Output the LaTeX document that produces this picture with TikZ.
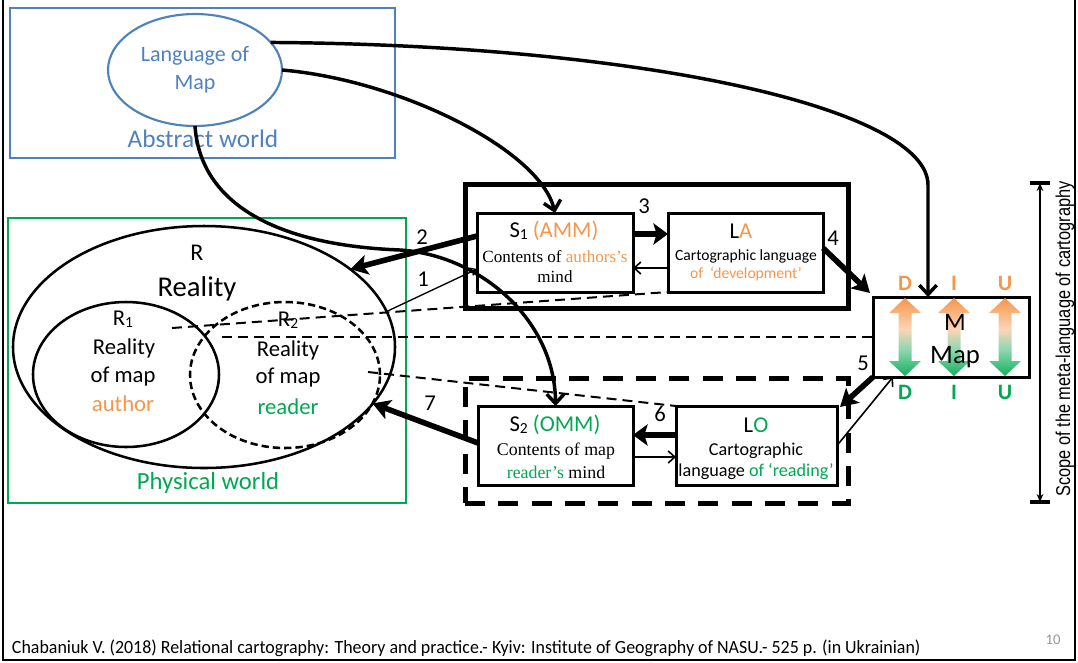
\documentclass[tikz,border=0pt]{standalone}
\usepackage{fontspec}
\usepackage{graphicx}
\setmainfont{Carlito}
\newfontfamily\timesface{Liberation Serif}
\newfontfamily\arialface{Liberation Sans}
\usetikzlibrary{arrows.meta,shapes.geometric}
\definecolor{absblue}{RGB}{79,129,189}
\definecolor{phygreen}{RGB}{0,168,80}
\definecolor{devorange}{RGB}{245,150,75}
\definecolor{pagegray}{RGB}{150,150,150}
\newcommand\lowidx[1]{\raisebox{-0.15ex}{\scalebox{0.68}{#1}}}
\pgfdeclareverticalshading{diushade}{100bp}{color(0bp)=(phygreen); color(22bp)=(phygreen); color(42bp)=(phygreen!45!white); color(55bp)=(devorange!40!white); color(75bp)=(devorange); color(100bp)=(devorange)}
\begin{document}
\begin{tikzpicture}[x=0.75pt,y=-0.75pt,
  every node/.style={inner sep=0pt,outer sep=0pt},
  box/.style={draw,line width=2.25pt,rectangle},
  group/.style={draw,line width=3.75pt,rectangle},
  dashgroup/.style={draw,line width=3.75pt,rectangle,dash pattern=on 15pt off 10pt},
  oval/.style={draw,ellipse,line width=1.9pt},
  guide/.style={line width=1.5pt,dash pattern=on 7.5pt off 4.5pt},
  curve/.style={line width=2.6pt,-{Straight Barb[length=7pt,width=13pt]}},
  heavy/.style={line width=4.2pt,-{Stealth[length=13pt,width=15pt,inset=3pt]}},
  light/.style={line width=1.2pt,-{Straight Barb[length=5pt,width=9pt]}},
  num/.style={font=\fontsize{17}{20}\selectfont},
  diu/.pic={\shade[shading=diushade] (0,-39) -- (16,-24) -- (6.5,-24) -- (6.5,24) -- (16,24) -- (0,39) -- (-16,24) -- (-6.5,24) -- (-6.5,-24) -- (-16,-24) -- cycle;},
]
\useasboundingbox (0,0) rectangle (1078,662);

% slide frame
\draw[line width=1.3pt] (3,0) -- (3,660) -- (1075,660) -- (1075,0);

% abstract world
\node[draw=absblue,line width=1.6pt,minimum width=385*0.75pt,minimum height=150*0.75pt] (abstract) at (202.5,83) {};
\node[oval,draw=absblue,line width=1.6pt,minimum width=174*0.75pt,minimum height=112*0.75pt] (LoM) at (195,70) {};
\node[text=absblue,align=center,font=\fontsize{16.5}{21}\selectfont] (LoMtext) at (195,70) {Language of\\Map};
\node[text=absblue,font=\fontsize{19}{22}\selectfont] (abstractlbl) at (203,139) {Abstract world};

% physical world
\node[draw=phygreen,line width=1.6pt,minimum width=398*0.75pt,minimum height=285*0.75pt] (physical) at (207,360.5) {};
\node[text=phygreen,font=\fontsize{18.5}{22}\selectfont] (physlbl) at (208,483) {Physical world};

\node[oval,minimum width=382*0.75pt,minimum height=242*0.75pt] (R) at (204,347) {};
\node[oval,minimum width=186*0.75pt,minimum height=145*0.75pt] (R1) at (126,374.5) {};
\node[oval,dash pattern=on 5.5pt off 3pt,minimum width=190*0.75pt,minimum height=146*0.75pt] (R2) at (285,375) {};

\node[font=\fontsize{18}{22}\selectfont] (Rlbl) at (197,253) {R};
\node[font=\fontsize{21.5}{24}\selectfont] (Rtext) at (197,289) {Reality};
\node[font=\fontsize{17}{20}\selectfont] (R1lbl) at (123,319) {R\lowidx{1}};
\node[font=\fontsize{17}{20}\selectfont] (R1a) at (124,348) {Reality};
\node[font=\fontsize{17}{20}\selectfont] (R1b) at (123,377) {of map};
\node[font=\fontsize{17}{20}\selectfont,text=devorange] (R1c) at (123,404) {author};
\node[font=\fontsize{17}{20}\selectfont] (R2lbl) at (288,320) {R\lowidx{2}};
\node[font=\fontsize{17}{20}\selectfont] (R2a) at (288,350) {Reality};
\node[font=\fontsize{17}{20}\selectfont] (R2b) at (288,378) {of map};
\node[font=\fontsize{17}{20}\selectfont,text=phygreen] (R2c) at (288,407) {reader};

% development block
\node[group,minimum width=383*0.75pt,minimum height=124*0.75pt] (devframe) at (656.5,246) {};
\node[box,minimum width=156*0.75pt,minimum height=79*0.75pt] (S1) at (555,252.5) {};
\node[box,minimum width=155*0.75pt,minimum height=79*0.75pt] (LA) at (745.5,252.5) {};
\node[font=\fontsize{17}{20}\selectfont] (S1a) at (554,231) {S\lowidx{1} \textcolor{devorange}{(AMM)}};
\node[font=\timesface\fontsize{12.8}{15}\selectfont] (S1b) at (555,257) {Contents of \textcolor{devorange}{authors’s}};
\node[font=\timesface\fontsize{12.8}{15}\selectfont] (S1c) at (555,277) {mind};
\node[font=\fontsize{17}{20}\selectfont] (LAa) at (741,231) {L\textcolor{devorange}{A}};
\node[font=\fontsize{11.7}{14}\selectfont] (LAb) at (746,256) {Cartographic language};
\node[font=\fontsize{11.7}{14}\selectfont,text=devorange] (LAc) at (746,274) {of\ \ ‘development’};

% reading block
\node[dashgroup,minimum width=383*0.75pt,minimum height=125*0.75pt] (readframe) at (656.5,440.5) {};
\node[box,minimum width=155*0.75pt,minimum height=79*0.75pt] (S2) at (555.5,445.5) {};
\node[box,minimum width=161*0.75pt,minimum height=79*0.75pt] (LO) at (756.5,445.5) {};
\node[font=\fontsize{17}{20}\selectfont] (S2a) at (555,425) {S\lowidx{2} \textcolor{phygreen}{(OMM)}};
\node[font=\timesface\fontsize{13.4}{16}\selectfont] (S2b) at (556,451) {Contents of map};
\node[font=\timesface\fontsize{13.4}{16}\selectfont] (S2c) at (556,472) {\textcolor{phygreen}{reader’s} mind};
\node[font=\fontsize{17}{20}\selectfont] (LOa) at (756,425) {L\textcolor{phygreen}{O}};
\node[font=\fontsize{13.6}{16}\selectfont] (LOb) at (756,451) {Cartographic};
\node[font=\fontsize{13.6}{16}\selectfont] (LOc) at (756,472) {language \textcolor{phygreen}{of ‘reading’}};

% map
\node[box,minimum width=156*0.75pt,minimum height=80*0.75pt] (M) at (951,337) {};
\pic at (905,337) {diu};
\pic at (954,337) {diu};
\pic at (1005,337) {diu};
\node[font=\fontsize{19}{22}\selectfont] (Mlbl) at (955,322) {M};
\node[font=\fontsize{20}{24}\selectfont] (Mtext) at (955,357) {Map};
\foreach \nm/\xx/\lt in {Dt/905/D,It/954/I,Ut/1005/U}
  \node[font=\bfseries\fontsize{16.5}{20}\selectfont,text=devorange] (\nm) at (\xx,283) {\lt};
\foreach \nm/\xx/\lt in {Db/905/D,Ib/954/I,Ub/1005/U}
  \node[font=\bfseries\fontsize{16.5}{20}\selectfont,text=phygreen] (\nm) at (\xx,392) {\lt};

% dashed correspondence lines
\coordinate (g1) at (172,328);
\coordinate (g2) at (222,337);
\coordinate (g3) at (368,372);
\draw[guide] (g1) -- (LA.south west);
\draw[guide] (g2) -- (M.west);
\draw[guide] (g3) -- (LO.north west);

% curves from the language of map
\draw[curve] (LoM.20) .. controls (650,45) and (928,110) .. (928,185) -- (M.north -| 928,0);
\draw[curve] (LoM.east) .. controls (400,80) and (540,150) .. (S1.north);
\draw[curve] (LoM.south) .. controls (200,200) and (270,245) .. (400,250) .. controls (480,255) and (555,320) .. (S2.north);

% numbered relations
\draw[heavy] (S1.west |- 0,236) -- (R.28);
\draw[line width=1pt,-{Straight Barb[length=4pt,width=6pt]}] (R.11) -- (S1.west |- 0,269);
\draw[heavy,-{Stealth[length=11pt,width=16pt,inset=2.5pt]}] (S1.east |- 0,234) -- (LA.west |- 0,234);
\draw[light] (LA.west |- 0,268) -- (S1.east |- 0,268);
\draw[heavy] (LA.east |- 0,248) -- ([shift={(-3,-4)}]M.north west);
\draw[heavy] (M.south west) -- ([shift={(3,1)}]LO.north east);
\draw[light] (LO.east) -- (M.south west -| 893,0);
\draw[heavy,-{Stealth[length=11pt,width=16pt,inset=2.5pt]}] (LO.west |- 0,435) -- (S2.east |- 0,435);
\draw[light] (S2.east |- 0,457) -- (LO.west |- 0,457);
\draw[heavy] (S2.west |- 0,443) -- (R2.-18);

\node[num] (n1) at (423,279) {1};
\node[num] (n2) at (422,237) {2};
\node[num] (n3) at (644,206) {3};
\node[num] (n4) at (833,238) {4};
\node[num] (n5) at (863,363) {5};
\node[num] (n6) at (660,414) {6};
\node[num] (n7) at (430,403) {7};

% scope bar
\coordinate (scopetop) at (1040,183);
\coordinate (scopebot) at (1040,502);
\draw[line width=1.5pt,{Stealth[length=6pt,width=5pt]}-{Stealth[length=6pt,width=5pt]}] (scopetop) -- (scopebot);
\draw[line width=2.6pt] ([xshift=-7.5pt]scopetop) -- ([xshift=7.5pt]scopetop);
\draw[line width=2.6pt] ([xshift=-7.5pt]scopebot) -- ([xshift=7.5pt]scopebot);
\node[rotate=90,font=\arialface\fontsize{15}{18}\selectfont] (scope) at (1065,339) {\scalebox{0.82}[1]{Scope of the meta-language of cartography}};

% footer
\node[anchor=west,font=\fontsize{14}{16}\selectfont] (cite) at (12,648) {\scalebox{0.96}[1]{Chabaniuk V. (2018) Relational cartography: Theory and practice.- Kyiv: Institute of Geography of NASU.- 525 p. (in Ukrainian)}};
\node[font=\fontsize{11}{13}\selectfont,text=pagegray] (pagenum) at (1053,640) {10};
\end{tikzpicture}
\end{document}
